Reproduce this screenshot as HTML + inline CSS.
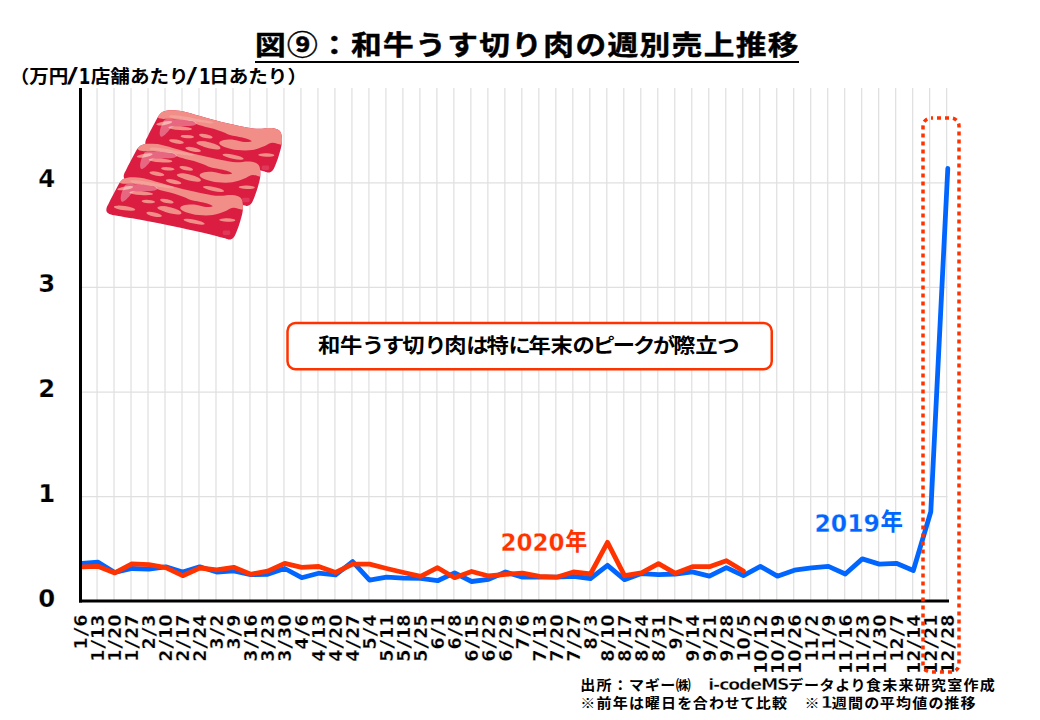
<!DOCTYPE html>
<html lang="ja"><head><meta charset="utf-8"><title>図⑨：和牛うす切り肉の週別売上推移</title>
<style>
html,body{margin:0;padding:0;background:#fff;}
body{width:1040px;height:720px;overflow:hidden;}
svg{display:block;}
text{font-family:'Liberation Sans','Noto Sans CJK JP',sans-serif;font-weight:700;fill:#000;}
.l{font-family:'DejaVu Sans','Liberation Sans',sans-serif;}
.m{font-family:'DejaVu Sans Mono','Liberation Mono',monospace;stroke:#000;stroke-width:0.15px;}
.thin{stroke:#fff;stroke-width:0.25px;}
.thin2{stroke:#fff;stroke-width:0.3px;}
.thin3{stroke:#fff;stroke-width:0.45px;}
</style></head><body>
<svg width="1040" height="720" viewBox="0 0 1040 720">
<rect width="1040" height="720" fill="#fff"/>
<g stroke="#e0e0e0" stroke-width="1.25" fill="none">
<line x1="97.04" y1="88" x2="97.04" y2="600"/>
<line x1="114.03" y1="88" x2="114.03" y2="600"/>
<line x1="131.03" y1="88" x2="131.03" y2="600"/>
<line x1="148.02" y1="88" x2="148.02" y2="600"/>
<line x1="165.01" y1="88" x2="165.01" y2="600"/>
<line x1="182.00" y1="88" x2="182.00" y2="600"/>
<line x1="198.99" y1="88" x2="198.99" y2="600"/>
<line x1="215.99" y1="88" x2="215.99" y2="600"/>
<line x1="232.98" y1="88" x2="232.98" y2="600"/>
<line x1="249.97" y1="88" x2="249.97" y2="600"/>
<line x1="266.96" y1="88" x2="266.96" y2="600"/>
<line x1="283.95" y1="88" x2="283.95" y2="600"/>
<line x1="300.95" y1="88" x2="300.95" y2="600"/>
<line x1="317.94" y1="88" x2="317.94" y2="600"/>
<line x1="334.93" y1="88" x2="334.93" y2="600"/>
<line x1="351.92" y1="88" x2="351.92" y2="600"/>
<line x1="368.91" y1="88" x2="368.91" y2="600"/>
<line x1="385.91" y1="88" x2="385.91" y2="600"/>
<line x1="402.90" y1="88" x2="402.90" y2="600"/>
<line x1="419.89" y1="88" x2="419.89" y2="600"/>
<line x1="436.88" y1="88" x2="436.88" y2="600"/>
<line x1="453.87" y1="88" x2="453.87" y2="600"/>
<line x1="470.87" y1="88" x2="470.87" y2="600"/>
<line x1="487.86" y1="88" x2="487.86" y2="600"/>
<line x1="504.85" y1="88" x2="504.85" y2="600"/>
<line x1="521.84" y1="88" x2="521.84" y2="600"/>
<line x1="538.83" y1="88" x2="538.83" y2="600"/>
<line x1="555.83" y1="88" x2="555.83" y2="600"/>
<line x1="572.82" y1="88" x2="572.82" y2="600"/>
<line x1="589.81" y1="88" x2="589.81" y2="600"/>
<line x1="606.80" y1="88" x2="606.80" y2="600"/>
<line x1="623.79" y1="88" x2="623.79" y2="600"/>
<line x1="640.79" y1="88" x2="640.79" y2="600"/>
<line x1="657.78" y1="88" x2="657.78" y2="600"/>
<line x1="674.77" y1="88" x2="674.77" y2="600"/>
<line x1="691.76" y1="88" x2="691.76" y2="600"/>
<line x1="708.75" y1="88" x2="708.75" y2="600"/>
<line x1="725.75" y1="88" x2="725.75" y2="600"/>
<line x1="742.74" y1="88" x2="742.74" y2="600"/>
<line x1="759.73" y1="88" x2="759.73" y2="600"/>
<line x1="776.72" y1="88" x2="776.72" y2="600"/>
<line x1="793.71" y1="88" x2="793.71" y2="600"/>
<line x1="810.71" y1="88" x2="810.71" y2="600"/>
<line x1="827.70" y1="88" x2="827.70" y2="600"/>
<line x1="844.69" y1="88" x2="844.69" y2="600"/>
<line x1="861.68" y1="88" x2="861.68" y2="600"/>
<line x1="878.67" y1="88" x2="878.67" y2="600"/>
<line x1="895.67" y1="88" x2="895.67" y2="600"/>
<line x1="912.66" y1="88" x2="912.66" y2="600"/>
<line x1="929.65" y1="88" x2="929.65" y2="600"/>
<line x1="946.64" y1="88" x2="946.64" y2="600"/>
<line x1="82" y1="496.60" x2="947.5" y2="496.60"/>
<line x1="82" y1="392.00" x2="947.5" y2="392.00"/>
<line x1="82" y1="287.40" x2="947.5" y2="287.40"/>
<line x1="82" y1="182.80" x2="947.5" y2="182.80"/>
</g>
<g id="meat">
<clipPath id="sliceclip"><path d="M172.0,64.0C183.7,50.7 194.7,46.7 208.0,42.0C221.3,37.3 231.7,35.7 252.0,36.0C272.3,36.3 297.0,37.2 330.0,44.0C363.0,50.8 405.0,64.8 450.0,77.0C495.0,89.2 550.0,104.8 600.0,117.0C650.0,129.2 708.3,142.0 750.0,150.0C791.7,158.0 820.0,163.3 850.0,165.0C880.0,166.7 907.5,159.5 930.0,160.0C952.5,160.5 971.3,162.2 985.0,168.0C998.7,173.8 1006.5,179.7 1012.0,195.0C1017.5,210.3 1020.0,235.8 1018.0,260.0C1016.0,284.2 1007.7,313.3 1000.0,340.0C992.3,366.7 980.0,400.8 972.0,420.0C964.0,439.2 959.8,447.0 952.0,455.0C944.2,463.0 936.2,467.5 925.0,468.0C913.8,468.5 916.7,466.0 885.0,458.0C853.3,450.0 793.3,433.7 735.0,420.0C676.7,406.3 601.7,390.0 535.0,376.0C468.3,362.0 402.8,348.7 335.0,336.0C267.2,323.3 170.2,308.7 128.0,300.0C85.8,291.3 91.3,291.3 82.0,284.0C72.7,276.7 70.3,268.3 72.0,256.0C73.7,243.7 81.0,232.3 92.0,210.0C103.0,187.7 124.7,146.3 138.0,122.0C151.3,97.7 160.3,77.3 172.0,64.0Z"/></clipPath>
<g transform="translate(135,105) scale(0.1443)"><path d="M172.0,64.0C183.7,50.7 194.7,46.7 208.0,42.0C221.3,37.3 231.7,35.7 252.0,36.0C272.3,36.3 297.0,37.2 330.0,44.0C363.0,50.8 405.0,64.8 450.0,77.0C495.0,89.2 550.0,104.8 600.0,117.0C650.0,129.2 708.3,142.0 750.0,150.0C791.7,158.0 820.0,163.3 850.0,165.0C880.0,166.7 907.5,159.5 930.0,160.0C952.5,160.5 971.3,162.2 985.0,168.0C998.7,173.8 1006.5,179.7 1012.0,195.0C1017.5,210.3 1020.0,235.8 1018.0,260.0C1016.0,284.2 1007.7,313.3 1000.0,340.0C992.3,366.7 980.0,400.8 972.0,420.0C964.0,439.2 959.8,447.0 952.0,455.0C944.2,463.0 936.2,467.5 925.0,468.0C913.8,468.5 916.7,466.0 885.0,458.0C853.3,450.0 793.3,433.7 735.0,420.0C676.7,406.3 601.7,390.0 535.0,376.0C468.3,362.0 402.8,348.7 335.0,336.0C267.2,323.3 170.2,308.7 128.0,300.0C85.8,291.3 91.3,291.3 82.0,284.0C72.7,276.7 70.3,268.3 72.0,256.0C73.7,243.7 81.0,232.3 92.0,210.0C103.0,187.7 124.7,146.3 138.0,122.0C151.3,97.7 160.3,77.3 172.0,64.0Z" fill="#dc1d42"/><g clip-path="url(#sliceclip)"><g transform="translate(0,0)"><path d="M150.0,70.0C152.0,57.7 173.3,30.0 190.0,20.0C206.7,10.0 226.7,10.0 250.0,10.0C273.3,10.0 296.7,13.0 330.0,20.0C363.3,27.0 405.0,40.0 450.0,52.0C495.0,64.0 550.0,79.7 600.0,92.0C650.0,104.3 708.3,118.0 750.0,126.0C791.7,134.0 820.0,138.5 850.0,140.0C880.0,141.5 905.0,135.0 930.0,135.0C955.0,135.0 981.7,130.8 1000.0,140.0C1018.3,149.2 1033.3,171.7 1040.0,190.0C1046.7,208.3 1044.0,235.8 1040.0,250.0C1036.0,264.2 1031.0,273.0 1016.0,275.0C1001.0,277.0 971.0,259.8 950.0,262.0C929.0,264.2 913.3,279.7 890.0,288.0C866.7,296.3 840.0,308.0 810.0,312.0C780.0,316.0 740.0,315.0 710.0,312.0C680.0,309.0 650.8,301.3 630.0,294.0C609.2,286.7 589.2,276.0 585.0,268.0C580.8,260.0 589.2,250.7 605.0,246.0C620.8,241.3 654.2,238.3 680.0,240.0C705.8,241.7 738.7,254.3 760.0,256.0C781.3,257.7 810.5,255.0 808.0,250.0C805.5,245.0 770.0,233.0 745.0,226.0C720.0,219.0 681.5,214.7 658.0,208.0C634.5,201.3 623.0,193.3 604.0,186.0C585.0,178.7 564.0,170.0 544.0,164.0C524.0,158.0 503.0,155.0 484.0,150.0C465.0,145.0 445.0,140.7 430.0,134.0C415.0,127.3 417.3,115.7 394.0,110.0C370.7,104.3 317.0,102.3 290.0,100.0C263.0,97.7 250.7,97.0 232.0,96.0C213.3,95.0 191.7,98.3 178.0,94.0C164.3,89.7 148.0,82.3 150.0,70.0Z" fill="#f18e88"/><g fill="#f18e88"><ellipse cx="203" cy="126" rx="56.0" ry="12.0" transform="rotate(-10 203 126)"/><ellipse cx="313" cy="161" rx="82.5" ry="13.0" transform="rotate(4 313 161)"/><ellipse cx="363" cy="219" rx="47.0" ry="11.5" transform="rotate(4 363 219)"/><ellipse cx="491" cy="216" rx="48.0" ry="13.5" transform="rotate(12 491 216)"/><ellipse cx="515" cy="280" rx="80.0" ry="21.0" transform="rotate(14 515 280)"/><ellipse cx="470" cy="266" rx="45.0" ry="15.0" transform="rotate(5 470 266)"/><ellipse cx="403" cy="308" rx="55.0" ry="14.0" transform="rotate(12 403 308)"/><ellipse cx="680" cy="358" rx="75.0" ry="14.0" transform="rotate(12 680 358)"/><ellipse cx="910" cy="347" rx="56.0" ry="12.0" transform="rotate(2 910 347)"/><ellipse cx="287" cy="253" rx="52.0" ry="14.0" transform="rotate(10 287 253)"/></g><path d="M245.0,72.0C258.3,70.3 297.5,73.7 330.0,78.0C362.5,82.3 405.8,91.7 440.0,98.0C474.2,104.3 520.8,111.0 535.0,116.0C549.2,121.0 542.5,128.0 525.0,128.0C507.5,128.0 462.5,121.0 430.0,116.0C397.5,111.0 360.0,102.7 330.0,98.0C300.0,93.3 264.2,92.3 250.0,88.0C235.8,83.7 231.7,73.7 245.0,72.0Z" fill="#f5a59e" opacity="0.85"/><path d="M214.0,99.0C232.5,94.8 274.0,99.7 304.0,101.0C334.0,102.3 373.3,102.5 394.0,107.0C414.7,111.5 428.0,121.8 428.0,128.0C428.0,134.2 411.7,140.8 394.0,144.0C376.3,147.2 344.0,145.8 322.0,147.0C300.0,148.2 277.0,145.5 262.0,151.0C247.0,156.5 241.8,170.2 232.0,180.0C222.2,189.8 211.7,203.3 203.0,210.0C194.3,216.7 185.3,222.0 180.0,220.0C174.7,218.0 171.3,208.7 171.0,198.0C170.7,187.3 174.3,168.0 178.0,156.0C181.7,144.0 187.0,135.5 193.0,126.0C199.0,116.5 195.5,103.2 214.0,99.0Z" fill="#fff" opacity="0.33"/><rect x="878" y="420" width="52" height="30" rx="10" fill="#fff" opacity="0.12"/></g></g></g>
<g transform="translate(113.4,138.4) scale(0.1443)"><path d="M172.0,64.0C183.7,50.7 194.7,46.7 208.0,42.0C221.3,37.3 231.7,35.7 252.0,36.0C272.3,36.3 297.0,37.2 330.0,44.0C363.0,50.8 405.0,64.8 450.0,77.0C495.0,89.2 550.0,104.8 600.0,117.0C650.0,129.2 708.3,142.0 750.0,150.0C791.7,158.0 820.0,163.3 850.0,165.0C880.0,166.7 907.5,159.5 930.0,160.0C952.5,160.5 971.3,162.2 985.0,168.0C998.7,173.8 1006.5,179.7 1012.0,195.0C1017.5,210.3 1020.0,235.8 1018.0,260.0C1016.0,284.2 1007.7,313.3 1000.0,340.0C992.3,366.7 980.0,400.8 972.0,420.0C964.0,439.2 959.8,447.0 952.0,455.0C944.2,463.0 936.2,467.5 925.0,468.0C913.8,468.5 916.7,466.0 885.0,458.0C853.3,450.0 793.3,433.7 735.0,420.0C676.7,406.3 601.7,390.0 535.0,376.0C468.3,362.0 402.8,348.7 335.0,336.0C267.2,323.3 170.2,308.7 128.0,300.0C85.8,291.3 91.3,291.3 82.0,284.0C72.7,276.7 70.3,268.3 72.0,256.0C73.7,243.7 81.0,232.3 92.0,210.0C103.0,187.7 124.7,146.3 138.0,122.0C151.3,97.7 160.3,77.3 172.0,64.0Z" fill="#dc1d42"/><g clip-path="url(#sliceclip)"><g transform="translate(14,-8)"><path d="M150.0,70.0C152.0,57.7 173.3,30.0 190.0,20.0C206.7,10.0 226.7,10.0 250.0,10.0C273.3,10.0 296.7,13.0 330.0,20.0C363.3,27.0 405.0,40.0 450.0,52.0C495.0,64.0 550.0,79.7 600.0,92.0C650.0,104.3 708.3,118.0 750.0,126.0C791.7,134.0 820.0,138.5 850.0,140.0C880.0,141.5 905.0,135.0 930.0,135.0C955.0,135.0 981.7,130.8 1000.0,140.0C1018.3,149.2 1033.3,171.7 1040.0,190.0C1046.7,208.3 1044.0,235.8 1040.0,250.0C1036.0,264.2 1031.0,273.0 1016.0,275.0C1001.0,277.0 971.0,259.8 950.0,262.0C929.0,264.2 913.3,279.7 890.0,288.0C866.7,296.3 840.0,308.0 810.0,312.0C780.0,316.0 740.0,315.0 710.0,312.0C680.0,309.0 650.8,301.3 630.0,294.0C609.2,286.7 589.2,276.0 585.0,268.0C580.8,260.0 589.2,250.7 605.0,246.0C620.8,241.3 654.2,238.3 680.0,240.0C705.8,241.7 738.7,254.3 760.0,256.0C781.3,257.7 810.5,255.0 808.0,250.0C805.5,245.0 770.0,233.0 745.0,226.0C720.0,219.0 681.5,214.7 658.0,208.0C634.5,201.3 623.0,193.3 604.0,186.0C585.0,178.7 564.0,170.0 544.0,164.0C524.0,158.0 503.0,155.0 484.0,150.0C465.0,145.0 445.0,140.7 430.0,134.0C415.0,127.3 417.3,115.7 394.0,110.0C370.7,104.3 317.0,102.3 290.0,100.0C263.0,97.7 250.7,97.0 232.0,96.0C213.3,95.0 191.7,98.3 178.0,94.0C164.3,89.7 148.0,82.3 150.0,70.0Z" fill="#f18e88"/><g fill="#f18e88"><ellipse cx="203" cy="126" rx="56.0" ry="12.0" transform="rotate(-10 203 126)"/><ellipse cx="313" cy="161" rx="82.5" ry="13.0" transform="rotate(4 313 161)"/><ellipse cx="363" cy="219" rx="47.0" ry="11.5" transform="rotate(4 363 219)"/><ellipse cx="491" cy="216" rx="48.0" ry="13.5" transform="rotate(12 491 216)"/><ellipse cx="515" cy="280" rx="80.0" ry="21.0" transform="rotate(14 515 280)"/><ellipse cx="470" cy="266" rx="45.0" ry="15.0" transform="rotate(5 470 266)"/><ellipse cx="403" cy="308" rx="55.0" ry="14.0" transform="rotate(12 403 308)"/><ellipse cx="680" cy="358" rx="75.0" ry="14.0" transform="rotate(12 680 358)"/><ellipse cx="910" cy="347" rx="56.0" ry="12.0" transform="rotate(2 910 347)"/><ellipse cx="287" cy="253" rx="52.0" ry="14.0" transform="rotate(10 287 253)"/></g><path d="M245.0,72.0C258.3,70.3 297.5,73.7 330.0,78.0C362.5,82.3 405.8,91.7 440.0,98.0C474.2,104.3 520.8,111.0 535.0,116.0C549.2,121.0 542.5,128.0 525.0,128.0C507.5,128.0 462.5,121.0 430.0,116.0C397.5,111.0 360.0,102.7 330.0,98.0C300.0,93.3 264.2,92.3 250.0,88.0C235.8,83.7 231.7,73.7 245.0,72.0Z" fill="#f5a59e" opacity="0.85"/><path d="M214.0,99.0C232.5,94.8 274.0,99.7 304.0,101.0C334.0,102.3 373.3,102.5 394.0,107.0C414.7,111.5 428.0,121.8 428.0,128.0C428.0,134.2 411.7,140.8 394.0,144.0C376.3,147.2 344.0,145.8 322.0,147.0C300.0,148.2 277.0,145.5 262.0,151.0C247.0,156.5 241.8,170.2 232.0,180.0C222.2,189.8 211.7,203.3 203.0,210.0C194.3,216.7 185.3,222.0 180.0,220.0C174.7,218.0 171.3,208.7 171.0,198.0C170.7,187.3 174.3,168.0 178.0,156.0C181.7,144.0 187.0,135.5 193.0,126.0C199.0,116.5 195.5,103.2 214.0,99.0Z" fill="#fff" opacity="0.33"/><rect x="878" y="420" width="52" height="30" rx="10" fill="#fff" opacity="0.12"/></g></g></g>
<g transform="translate(96,172) scale(0.1443)"><path d="M172.0,64.0C183.7,50.7 194.7,46.7 208.0,42.0C221.3,37.3 231.7,35.7 252.0,36.0C272.3,36.3 297.0,37.2 330.0,44.0C363.0,50.8 405.0,64.8 450.0,77.0C495.0,89.2 550.0,104.8 600.0,117.0C650.0,129.2 708.3,142.0 750.0,150.0C791.7,158.0 820.0,163.3 850.0,165.0C880.0,166.7 907.5,159.5 930.0,160.0C952.5,160.5 971.3,162.2 985.0,168.0C998.7,173.8 1006.5,179.7 1012.0,195.0C1017.5,210.3 1020.0,235.8 1018.0,260.0C1016.0,284.2 1007.7,313.3 1000.0,340.0C992.3,366.7 980.0,400.8 972.0,420.0C964.0,439.2 959.8,447.0 952.0,455.0C944.2,463.0 936.2,467.5 925.0,468.0C913.8,468.5 916.7,466.0 885.0,458.0C853.3,450.0 793.3,433.7 735.0,420.0C676.7,406.3 601.7,390.0 535.0,376.0C468.3,362.0 402.8,348.7 335.0,336.0C267.2,323.3 170.2,308.7 128.0,300.0C85.8,291.3 91.3,291.3 82.0,284.0C72.7,276.7 70.3,268.3 72.0,256.0C73.7,243.7 81.0,232.3 92.0,210.0C103.0,187.7 124.7,146.3 138.0,122.0C151.3,97.7 160.3,77.3 172.0,64.0Z" fill="#dc1d42"/><g clip-path="url(#sliceclip)"><g transform="translate(0,-14)"><path d="M150.0,70.0C152.0,57.7 173.3,30.0 190.0,20.0C206.7,10.0 226.7,10.0 250.0,10.0C273.3,10.0 296.7,13.0 330.0,20.0C363.3,27.0 405.0,40.0 450.0,52.0C495.0,64.0 550.0,79.7 600.0,92.0C650.0,104.3 708.3,118.0 750.0,126.0C791.7,134.0 820.0,138.5 850.0,140.0C880.0,141.5 905.0,135.0 930.0,135.0C955.0,135.0 981.7,130.8 1000.0,140.0C1018.3,149.2 1033.3,171.7 1040.0,190.0C1046.7,208.3 1044.0,235.8 1040.0,250.0C1036.0,264.2 1031.0,273.0 1016.0,275.0C1001.0,277.0 971.0,259.8 950.0,262.0C929.0,264.2 913.3,279.7 890.0,288.0C866.7,296.3 840.0,308.0 810.0,312.0C780.0,316.0 740.0,315.0 710.0,312.0C680.0,309.0 650.8,301.3 630.0,294.0C609.2,286.7 589.2,276.0 585.0,268.0C580.8,260.0 589.2,250.7 605.0,246.0C620.8,241.3 654.2,238.3 680.0,240.0C705.8,241.7 738.7,254.3 760.0,256.0C781.3,257.7 810.5,255.0 808.0,250.0C805.5,245.0 770.0,233.0 745.0,226.0C720.0,219.0 681.5,214.7 658.0,208.0C634.5,201.3 623.0,193.3 604.0,186.0C585.0,178.7 564.0,170.0 544.0,164.0C524.0,158.0 503.0,155.0 484.0,150.0C465.0,145.0 445.0,140.7 430.0,134.0C415.0,127.3 417.3,115.7 394.0,110.0C370.7,104.3 317.0,102.3 290.0,100.0C263.0,97.7 250.7,97.0 232.0,96.0C213.3,95.0 191.7,98.3 178.0,94.0C164.3,89.7 148.0,82.3 150.0,70.0Z" fill="#f18e88"/><g fill="#f18e88"><ellipse cx="203" cy="126" rx="56.0" ry="12.0" transform="rotate(-10 203 126)"/><ellipse cx="313" cy="161" rx="82.5" ry="13.0" transform="rotate(4 313 161)"/><ellipse cx="363" cy="219" rx="47.0" ry="11.5" transform="rotate(4 363 219)"/><ellipse cx="491" cy="216" rx="48.0" ry="13.5" transform="rotate(12 491 216)"/><ellipse cx="515" cy="280" rx="80.0" ry="21.0" transform="rotate(14 515 280)"/><ellipse cx="470" cy="266" rx="45.0" ry="15.0" transform="rotate(5 470 266)"/><ellipse cx="403" cy="308" rx="55.0" ry="14.0" transform="rotate(12 403 308)"/><ellipse cx="680" cy="358" rx="75.0" ry="14.0" transform="rotate(12 680 358)"/><ellipse cx="910" cy="347" rx="56.0" ry="12.0" transform="rotate(2 910 347)"/><ellipse cx="198" cy="265" rx="75.0" ry="15.0" transform="rotate(8 198 265)"/></g><path d="M245.0,72.0C258.3,70.3 297.5,73.7 330.0,78.0C362.5,82.3 405.8,91.7 440.0,98.0C474.2,104.3 520.8,111.0 535.0,116.0C549.2,121.0 542.5,128.0 525.0,128.0C507.5,128.0 462.5,121.0 430.0,116.0C397.5,111.0 360.0,102.7 330.0,98.0C300.0,93.3 264.2,92.3 250.0,88.0C235.8,83.7 231.7,73.7 245.0,72.0Z" fill="#f5a59e" opacity="0.85"/><path d="M214.0,99.0C232.5,94.8 274.0,99.7 304.0,101.0C334.0,102.3 373.3,102.5 394.0,107.0C414.7,111.5 428.0,121.8 428.0,128.0C428.0,134.2 411.7,140.8 394.0,144.0C376.3,147.2 344.0,145.8 322.0,147.0C300.0,148.2 277.0,145.5 262.0,151.0C247.0,156.5 241.8,170.2 232.0,180.0C222.2,189.8 211.7,203.3 203.0,210.0C194.3,216.7 185.3,222.0 180.0,220.0C174.7,218.0 171.3,208.7 171.0,198.0C170.7,187.3 174.3,168.0 178.0,156.0C181.7,144.0 187.0,135.5 193.0,126.0C199.0,116.5 195.5,103.2 214.0,99.0Z" fill="#fff" opacity="0.33"/><rect x="878" y="420" width="52" height="30" rx="10" fill="#fff" opacity="0.12"/></g></g></g>
</g>
<polyline points="82.5,563.4 97.8,562.1 114.8,572.5 131.8,568.5 148.8,569.1 165.8,566.8 182.7,572.0 199.7,566.8 216.7,572.0 233.7,570.8 250.7,574.6 267.7,574.3 284.7,568.5 301.7,577.7 318.7,573.2 335.6,574.9 352.6,561.6 369.6,580.1 386.6,577.2 403.6,578.1 420.6,578.4 437.6,580.7 454.6,572.9 471.6,581.5 488.6,579.4 505.5,572.0 522.5,577.2 539.5,577.2 556.5,577.2 573.5,576.3 590.5,578.5 607.5,565.3 624.5,579.7 641.5,573.6 658.5,574.7 675.4,574.0 692.4,571.9 709.4,576.2 726.4,567.6 743.4,575.7 760.4,566.4 777.4,576.2 794.4,570.2 811.4,567.9 828.4,566.4 845.3,574.0 862.3,558.9 879.3,564.1 896.3,563.3 913.3,570.5 930.8,511.8 947.8,168.5" fill="none" stroke="#0066ff" stroke-width="4.8" stroke-linejoin="round" stroke-linecap="round"/>
<polyline points="82.5,566.8 97.8,566.3 114.8,572.9 131.8,563.9 148.8,564.7 165.8,567.7 182.7,575.7 199.7,568.0 216.7,569.8 233.7,567.3 250.7,574.3 267.7,571.1 284.7,563.4 301.7,567.3 318.7,566.5 335.6,572.5 352.6,564.2 369.6,564.2 386.6,568.5 403.6,572.5 420.6,576.3 437.6,567.7 454.6,577.7 471.6,571.5 488.6,576.0 505.5,574.3 522.5,573.2 539.5,576.3 556.5,577.2 573.5,572.0 590.5,574.0 607.5,542.3 624.5,575.7 641.5,572.8 658.5,563.6 675.4,573.3 692.4,566.7 709.4,566.7 726.4,560.7 743.4,571.0" fill="none" stroke="#ff3300" stroke-width="4.8" stroke-linejoin="round" stroke-linecap="round"/>
<rect x="79" y="88" width="3" height="514.5" fill="#000"/>
<rect x="79" y="599.5" width="870" height="3" fill="#000"/>
<text class="l thin" transform="translate(55.3,606.50) scale(1.0,1)" font-size="24.4" text-anchor="end">0</text>
<text class="l thin" transform="translate(55.3,501.90) scale(1.0,1)" font-size="24.4" text-anchor="end">1</text>
<text class="l thin" transform="translate(55.3,397.30) scale(1.0,1)" font-size="24.4" text-anchor="end">2</text>
<text class="l thin" transform="translate(55.3,292.20) scale(1.0,1)" font-size="24.4" text-anchor="end">3</text>
<text class="l thin" transform="translate(55.3,187.40) scale(1.0,1)" font-size="24.4" text-anchor="end">4</text>
<g font-size="17.6">
<text class="l thin" transform="translate(86.80,614.4) rotate(-90) scale(1.0,1)" text-anchor="end" letter-spacing="0">1<tspan class="m" font-size="17.6" dx="0">/</tspan>6</text>
<text class="l thin" transform="translate(103.80,614.4) rotate(-90) scale(1.0,1)" text-anchor="end" letter-spacing="0">1<tspan class="m" font-size="17.6" dx="0">/</tspan>13</text>
<text class="l thin" transform="translate(120.80,614.4) rotate(-90) scale(1.0,1)" text-anchor="end" letter-spacing="0">1<tspan class="m" font-size="17.6" dx="0">/</tspan>20</text>
<text class="l thin" transform="translate(137.80,614.4) rotate(-90) scale(1.0,1)" text-anchor="end" letter-spacing="0">1<tspan class="m" font-size="17.6" dx="0">/</tspan>27</text>
<text class="l thin" transform="translate(154.80,614.4) rotate(-90) scale(1.0,1)" text-anchor="end" letter-spacing="0">2<tspan class="m" font-size="17.6" dx="0">/</tspan>3</text>
<text class="l thin" transform="translate(171.80,614.4) rotate(-90) scale(1.0,1)" text-anchor="end" letter-spacing="0">2<tspan class="m" font-size="17.6" dx="0">/</tspan>10</text>
<text class="l thin" transform="translate(188.80,614.4) rotate(-90) scale(1.0,1)" text-anchor="end" letter-spacing="0">2<tspan class="m" font-size="17.6" dx="0">/</tspan>17</text>
<text class="l thin" transform="translate(205.80,614.4) rotate(-90) scale(1.0,1)" text-anchor="end" letter-spacing="0">2<tspan class="m" font-size="17.6" dx="0">/</tspan>24</text>
<text class="l thin" transform="translate(222.80,614.4) rotate(-90) scale(1.0,1)" text-anchor="end" letter-spacing="0">3<tspan class="m" font-size="17.6" dx="0">/</tspan>2</text>
<text class="l thin" transform="translate(239.80,614.4) rotate(-90) scale(1.0,1)" text-anchor="end" letter-spacing="0">3<tspan class="m" font-size="17.6" dx="0">/</tspan>9</text>
<text class="l thin" transform="translate(256.80,614.4) rotate(-90) scale(1.0,1)" text-anchor="end" letter-spacing="0">3<tspan class="m" font-size="17.6" dx="0">/</tspan>16</text>
<text class="l thin" transform="translate(273.80,614.4) rotate(-90) scale(1.0,1)" text-anchor="end" letter-spacing="0">3<tspan class="m" font-size="17.6" dx="0">/</tspan>23</text>
<text class="l thin" transform="translate(290.80,614.4) rotate(-90) scale(1.0,1)" text-anchor="end" letter-spacing="0">3<tspan class="m" font-size="17.6" dx="0">/</tspan>30</text>
<text class="l thin" transform="translate(307.80,614.4) rotate(-90) scale(1.0,1)" text-anchor="end" letter-spacing="0">4<tspan class="m" font-size="17.6" dx="0">/</tspan>6</text>
<text class="l thin" transform="translate(324.80,614.4) rotate(-90) scale(1.0,1)" text-anchor="end" letter-spacing="0">4<tspan class="m" font-size="17.6" dx="0">/</tspan>13</text>
<text class="l thin" transform="translate(341.80,614.4) rotate(-90) scale(1.0,1)" text-anchor="end" letter-spacing="0">4<tspan class="m" font-size="17.6" dx="0">/</tspan>20</text>
<text class="l thin" transform="translate(358.80,614.4) rotate(-90) scale(1.0,1)" text-anchor="end" letter-spacing="0">4<tspan class="m" font-size="17.6" dx="0">/</tspan>27</text>
<text class="l thin" transform="translate(375.80,614.4) rotate(-90) scale(1.0,1)" text-anchor="end" letter-spacing="0">5<tspan class="m" font-size="17.6" dx="0">/</tspan>4</text>
<text class="l thin" transform="translate(392.80,614.4) rotate(-90) scale(1.0,1)" text-anchor="end" letter-spacing="0">5<tspan class="m" font-size="17.6" dx="0">/</tspan>11</text>
<text class="l thin" transform="translate(409.80,614.4) rotate(-90) scale(1.0,1)" text-anchor="end" letter-spacing="0">5<tspan class="m" font-size="17.6" dx="0">/</tspan>18</text>
<text class="l thin" transform="translate(426.80,614.4) rotate(-90) scale(1.0,1)" text-anchor="end" letter-spacing="0">5<tspan class="m" font-size="17.6" dx="0">/</tspan>25</text>
<text class="l thin" transform="translate(443.80,614.4) rotate(-90) scale(1.0,1)" text-anchor="end" letter-spacing="0">6<tspan class="m" font-size="17.6" dx="0">/</tspan>1</text>
<text class="l thin" transform="translate(460.80,614.4) rotate(-90) scale(1.0,1)" text-anchor="end" letter-spacing="0">6<tspan class="m" font-size="17.6" dx="0">/</tspan>8</text>
<text class="l thin" transform="translate(477.80,614.4) rotate(-90) scale(1.0,1)" text-anchor="end" letter-spacing="0">6<tspan class="m" font-size="17.6" dx="0">/</tspan>15</text>
<text class="l thin" transform="translate(494.80,614.4) rotate(-90) scale(1.0,1)" text-anchor="end" letter-spacing="0">6<tspan class="m" font-size="17.6" dx="0">/</tspan>22</text>
<text class="l thin" transform="translate(511.80,614.4) rotate(-90) scale(1.0,1)" text-anchor="end" letter-spacing="0">6<tspan class="m" font-size="17.6" dx="0">/</tspan>29</text>
<text class="l thin" transform="translate(528.80,614.4) rotate(-90) scale(1.0,1)" text-anchor="end" letter-spacing="0">7<tspan class="m" font-size="17.6" dx="0">/</tspan>6</text>
<text class="l thin" transform="translate(545.80,614.4) rotate(-90) scale(1.0,1)" text-anchor="end" letter-spacing="0">7<tspan class="m" font-size="17.6" dx="0">/</tspan>13</text>
<text class="l thin" transform="translate(562.80,614.4) rotate(-90) scale(1.0,1)" text-anchor="end" letter-spacing="0">7<tspan class="m" font-size="17.6" dx="0">/</tspan>20</text>
<text class="l thin" transform="translate(579.80,614.4) rotate(-90) scale(1.0,1)" text-anchor="end" letter-spacing="0">7<tspan class="m" font-size="17.6" dx="0">/</tspan>27</text>
<text class="l thin" transform="translate(596.80,614.4) rotate(-90) scale(1.0,1)" text-anchor="end" letter-spacing="0">8<tspan class="m" font-size="17.6" dx="0">/</tspan>3</text>
<text class="l thin" transform="translate(613.80,614.4) rotate(-90) scale(1.0,1)" text-anchor="end" letter-spacing="0">8<tspan class="m" font-size="17.6" dx="0">/</tspan>10</text>
<text class="l thin" transform="translate(630.80,614.4) rotate(-90) scale(1.0,1)" text-anchor="end" letter-spacing="0">8<tspan class="m" font-size="17.6" dx="0">/</tspan>17</text>
<text class="l thin" transform="translate(647.80,614.4) rotate(-90) scale(1.0,1)" text-anchor="end" letter-spacing="0">8<tspan class="m" font-size="17.6" dx="0">/</tspan>24</text>
<text class="l thin" transform="translate(664.80,614.4) rotate(-90) scale(1.0,1)" text-anchor="end" letter-spacing="0">8<tspan class="m" font-size="17.6" dx="0">/</tspan>31</text>
<text class="l thin" transform="translate(681.80,614.4) rotate(-90) scale(1.0,1)" text-anchor="end" letter-spacing="0">9<tspan class="m" font-size="17.6" dx="0">/</tspan>7</text>
<text class="l thin" transform="translate(698.80,614.4) rotate(-90) scale(1.0,1)" text-anchor="end" letter-spacing="0">9<tspan class="m" font-size="17.6" dx="0">/</tspan>14</text>
<text class="l thin" transform="translate(715.80,614.4) rotate(-90) scale(1.0,1)" text-anchor="end" letter-spacing="0">9<tspan class="m" font-size="17.6" dx="0">/</tspan>21</text>
<text class="l thin" transform="translate(732.80,614.4) rotate(-90) scale(1.0,1)" text-anchor="end" letter-spacing="0">9<tspan class="m" font-size="17.6" dx="0">/</tspan>28</text>
<text class="l thin" transform="translate(749.80,614.4) rotate(-90) scale(1.0,1)" text-anchor="end" letter-spacing="0">10<tspan class="m" font-size="17.6" dx="0">/</tspan>5</text>
<text class="l thin" transform="translate(766.80,614.4) rotate(-90) scale(1.0,1)" text-anchor="end" letter-spacing="0">10<tspan class="m" font-size="17.6" dx="0">/</tspan>12</text>
<text class="l thin" transform="translate(783.80,614.4) rotate(-90) scale(1.0,1)" text-anchor="end" letter-spacing="0">10<tspan class="m" font-size="17.6" dx="0">/</tspan>19</text>
<text class="l thin" transform="translate(800.80,614.4) rotate(-90) scale(1.0,1)" text-anchor="end" letter-spacing="0">10<tspan class="m" font-size="17.6" dx="0">/</tspan>26</text>
<text class="l thin" transform="translate(817.80,614.4) rotate(-90) scale(1.0,1)" text-anchor="end" letter-spacing="0">11<tspan class="m" font-size="17.6" dx="0">/</tspan>2</text>
<text class="l thin" transform="translate(834.80,614.4) rotate(-90) scale(1.0,1)" text-anchor="end" letter-spacing="0">11<tspan class="m" font-size="17.6" dx="0">/</tspan>9</text>
<text class="l thin" transform="translate(851.80,614.4) rotate(-90) scale(1.0,1)" text-anchor="end" letter-spacing="0">11<tspan class="m" font-size="17.6" dx="0">/</tspan>16</text>
<text class="l thin" transform="translate(868.80,614.4) rotate(-90) scale(1.0,1)" text-anchor="end" letter-spacing="0">11<tspan class="m" font-size="17.6" dx="0">/</tspan>23</text>
<text class="l thin" transform="translate(885.80,614.4) rotate(-90) scale(1.0,1)" text-anchor="end" letter-spacing="0">11<tspan class="m" font-size="17.6" dx="0">/</tspan>30</text>
<text class="l thin" transform="translate(902.80,614.4) rotate(-90) scale(1.0,1)" text-anchor="end" letter-spacing="0">12<tspan class="m" font-size="17.6" dx="0">/</tspan>7</text>
<text class="l thin" transform="translate(919.80,614.4) rotate(-90) scale(1.0,1)" text-anchor="end" letter-spacing="0">12<tspan class="m" font-size="17.6" dx="0">/</tspan>14</text>
<text class="l thin" transform="translate(936.80,614.4) rotate(-90) scale(1.0,1)" text-anchor="end" letter-spacing="0">12<tspan class="m" font-size="17.6" dx="0">/</tspan>21</text>
<text class="l thin" transform="translate(953.80,614.4) rotate(-90) scale(1.0,1)" text-anchor="end" letter-spacing="0">12<tspan class="m" font-size="17.6" dx="0">/</tspan>28</text>
</g>
<rect x="287.5" y="323" width="484.25" height="46.25" rx="8" ry="8" fill="#fff" stroke="#ff3300" stroke-width="2.5"/>
<text transform="translate(318,353.2) scale(1.1,1)" font-size="20.3" letter-spacing="-0.3">和牛<tspan letter-spacing="-2.0">うす</tspan>切<tspan letter-spacing="-2.0">り</tspan>肉<tspan letter-spacing="-2.0">は</tspan>特<tspan letter-spacing="-2.0">に</tspan>年末<tspan letter-spacing="-2.0">のピークが</tspan>際立<tspan letter-spacing="-2.0">つ</tspan></text>
<text transform="translate(500.5,551.3) scale(0.915,1)" font-size="25.2" style="fill:#ff3300"><tspan class="l thin2">2020</tspan><tspan font-size="24" dx="0.6" dy="-1.6">年</tspan></text>
<text transform="translate(814.4,531.9) scale(0.935,1)" font-size="25.2" style="fill:#0066ff"><tspan class="l thin2">2019</tspan><tspan font-size="24" dx="0.6" dy="-1.6">年</tspan></text>
<rect x="923" y="118" width="36" height="554" rx="8" ry="8" fill="none" stroke="#ff3300" stroke-width="3.5" stroke-dasharray="4 4" stroke-dashoffset="2"/>
<text transform="translate(254.9,55.4) scale(1.125,1)" font-size="27.3" letter-spacing="1.2" stroke="#000" stroke-width="0.45">図⑨：和牛うす切り肉の週別売上推移</text>
<rect x="255" y="61" width="544" height="2" fill="#000"/>
<text transform="translate(9.80,82.80) scale(1.086,1)" font-size="18">（万円</text>
<text class="l" transform="translate(66.90,83.40) scale(1.42,1)" font-size="20.8">/</text>
<text class="l" transform="translate(78.73,83.80) scale(0.78,1)" font-size="21.2">1</text>
<text transform="translate(90.85,82.80) scale(1.086,1)" font-size="18">店舗あたり</text>
<text class="l" transform="translate(186.30,83.40) scale(1.42,1)" font-size="20.8">/</text>
<text class="l" transform="translate(198.93,83.80) scale(0.78,1)" font-size="21.2">1</text>
<text transform="translate(209.30,82.80) scale(1.086,1)" font-size="18">日あたり）</text>
<text transform="translate(580.3,689.6) scale(1.06,1)" font-size="14.2" letter-spacing="1.13">出所：<tspan letter-spacing="0.52">マギー</tspan>㈱　<tspan class="l thin3" font-size="16.4" letter-spacing="-1.1">i-codeMS</tspan><tspan letter-spacing="0.52">データより</tspan>食未来研究室作成</text>
<text transform="translate(580.3,708.4) scale(1.06,1)" font-size="14.2" letter-spacing="1.13">※前年<tspan letter-spacing="0.52">は</tspan>曜日<tspan letter-spacing="0.52">を</tspan>合<tspan letter-spacing="0.52">わせて</tspan>比較　※<tspan class="l thin3" font-size="16.4" letter-spacing="-1.1">1</tspan>週間<tspan letter-spacing="0.52">の</tspan>平均値<tspan letter-spacing="0.52">の</tspan>推移</text>
</svg></body></html>
